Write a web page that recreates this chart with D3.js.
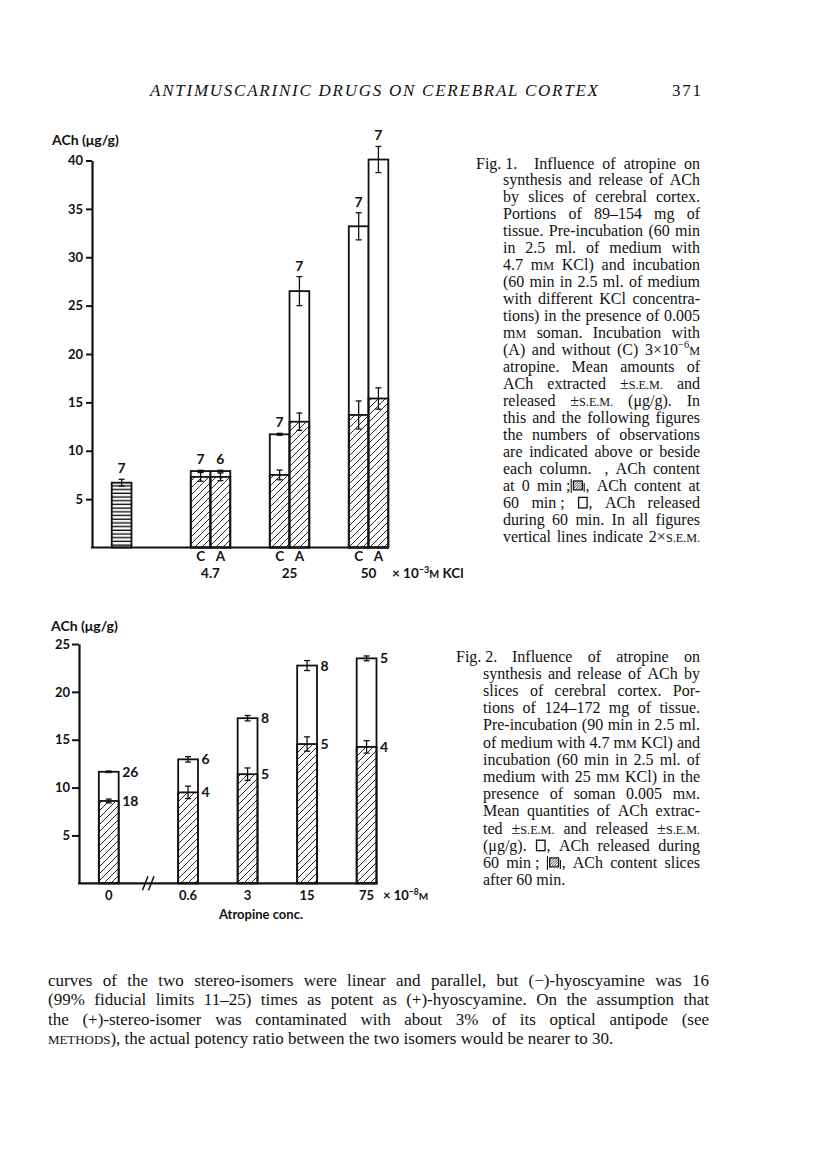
<!DOCTYPE html>
<html><head><meta charset="utf-8">
<script src="https://cdn.jsdelivr.net/npm/d3@7"></script>
<style>body{margin:0;background:#fff}svg{display:block}</style>
</head><body>
<svg id="page" width="816" height="1154"></svg>
<script>
// ---------------- DATA ----------------
const headerTitle = "ANTIMUSCARINIC DRUGS ON CEREBRAL CORTEX";
const pageNumber = "371";

// Fig. 1
const fig1Categories = ["0 min", "4.7 C", "4.7 A", "25 C", "25 A", "50 C", "50 A"];
const fig1SlotLayout = ["", "0 min", "", "", "", "4.7 C", "4.7 A", "", "", "25 C", "25 A", "", "", "50 C", "50 A"];
const fig1Content    = [6.7, 7.3, 7.3, 7.5, 13.0, 13.7, 15.4];
const fig1ContentErr = [0.35, 0.45, 0.4, 0.5, 0.9, 1.45, 1.1];
const fig1Total      = [null, 7.9, 7.9, 11.7, 26.5, 33.2, 40.1];
const fig1TotalErr   = [null, 0.08, 0.08, 0.1, 1.5, 1.4, 1.35];
const fig1N          = ["7", "7", "6", "7", "7", "7", "7"];
const fig1Groups     = ["4.7", "25", "50"];
const fig1Ticks      = [5, 10, 15, 20, 25, 30, 35, 40];

// Fig. 2
const fig2Categories = ["0", "0.6", "3", "15", "75"];
const fig2SlotLayout = ["", "0", "", "", "", "0.6", "", "", "3", "", "", "15", "", "", "75"];
const fig2Content    = [8.6, 9.5, 11.4, 14.55, 14.25];
const fig2ContentErr = [0.2, 0.65, 0.65, 0.75, 0.65];
const fig2Total      = [11.65, 12.95, 17.25, 22.75, 23.5];
const fig2TotalErr   = [0.08, 0.28, 0.28, 0.52, 0.25];
const fig2NTotal     = ["26", "6", "8", "8", "5"];
const fig2NContent   = ["18", "4", "5", "5", "4"];
const fig2Ticks      = [5, 10, 15, 20, 25];

const fig1Caption = [
  "synthesis and release of ACh",
  "by slices of cerebral cortex.",
  "Portions of 89–154 mg of",
  "tissue.  Pre-incubation (60 min",
  "in 2.5 ml. of medium with",
  "4.7 m{m} KCl) and incubation",
  "(60 min in 2.5 ml. of medium",
  "with different KCl concentra-",
  "tions) in the presence of 0.005",
  "m{m} soman.  Incubation with",
  "(A) and without (C) 3×10^−6^{m}",
  "atropine.  Mean amounts of",
  "ACh extracted ±{s.e.m.} and",
  "released ±{s.e.m.} (μg/g).  In",
  "this and the following figures",
  "the numbers of observations",
  "are indicated above or beside",
  "each column. #B, ACh content",
  "at 0 min\u00A0;#H, ACh content at",
  "60 min\u00A0; #W, ACh released",
  "during 60 min.  In all figures",
  "vertical lines indicate 2×{s.e.m.}"
];
const fig2Caption = [
  "synthesis and release of ACh by",
  "slices of cerebral cortex.  Por-",
  "tions of 124–172 mg of tissue.",
  "Pre-incubation (90 min in 2.5 ml.",
  "of medium with 4.7 m{m} KCl) and",
  "incubation (60 min in 2.5 ml. of",
  "medium with 25 m{m} KCl) in the",
  "presence of soman 0.005 m{m}.",
  "Mean quantities of ACh extrac-",
  "ted ±{s.e.m.} and released ±{s.e.m.}",
  "(μg/g).  #W, ACh released during",
  "60 min\u00A0; #H, ACh content slices",
  "after 60 min."
];
const bodyLines = [
  "curves of the two stereo-isomers were linear and parallel, but (−)-hyoscyamine was 16",
  "(99% fiducial limits 11–25) times as potent as (+)-hyoscyamine.  On the assumption that",
  "the (+)-stereo-isomer was contaminated with about 3% of its optical antipode (see",
  "{methods}), the actual potency ratio between the two isomers would be nearer to 30."
];

// ---------------- SETUP ----------------
const SERIF = "'Liberation Serif', 'Times New Roman', serif";
const SANS = "Lato, 'Open Sans', sans-serif";
const svg = d3.select("#page");
svg.append("rect").attr("width", 816).attr("height", 1154).attr("fill", "#fff");
const defs = svg.append("defs");
defs.append("pattern").attr("id", "hatch").attr("patternUnits", "userSpaceOnUse")
  .attr("width", 7).attr("height", 7)
  .append("path").attr("d", "M-1,1 L1,-1 M0,7 L7,0 M6,8 L8,6")
  .attr("stroke", "#111").attr("stroke-width", 0.9);
defs.append("pattern").attr("id", "hstripe").attr("patternUnits", "userSpaceOnUse")
  .attr("width", 6).attr("height", 3.7)
  .append("path").attr("d", "M0,1.2 H6").attr("stroke", "#111").attr("stroke-width", 1.4);
defs.append("pattern").attr("id", "hatchSmall").attr("patternUnits", "userSpaceOnUse")
  .attr("width", 2.6).attr("height", 2.6)
  .append("path").attr("d", "M-0.5,0.5 L0.5,-0.5 M0,2.6 L2.6,0 M2.1,3.1 L3.1,2.1")
  .attr("stroke", "#111").attr("stroke-width", 0.8);

// ---------------- TEXT LAYOUT HELPER ----------------
function parseWord(w) {
  const runs = [];
  const re = /\{([^}]*)\}|\^([^^]*)\^|#([HWB])|([^{^#]+)/g;
  let m;
  while ((m = re.exec(w)) !== null) {
    if (m[1] !== undefined) runs.push({ t: m[1].toUpperCase(), sc: true });
    else if (m[2] !== undefined) runs.push({ t: m[2], sup: true });
    else if (m[3] !== undefined) runs.push({ icon: m[3] });
    else runs.push({ t: m[4] });
  }
  return runs;
}
function drawWord(g, runs, y, fs, opt) {
  let x = 0;
  runs.forEach(r => {
    if (r.icon) {
      if (r.icon === "W") {
        g.append("rect").attr("x", x + 1.5).attr("y", y - 10.5).attr("width", 8.5).attr("height", 10.5)
          .attr("fill", "#fff").attr("stroke", "#111").attr("stroke-width", 1.3);
        x += 11.5;
      } else if (r.icon === "H") {
        g.append("line").attr("x1", x + 0.8).attr("x2", x + 0.8).attr("y1", y - 12).attr("y2", y + 2)
          .attr("stroke", "#111").attr("stroke-width", 1.1);
        g.append("rect").attr("x", x + 3).attr("y", y - 10).attr("width", 9).attr("height", 9)
          .attr("fill", "url(#hatchSmall)").attr("stroke", "#111").attr("stroke-width", 1.2);
        g.append("line").attr("x1", x + 13.8).attr("x2", x + 13.8).attr("y1", y - 8).attr("y2", y + 1)
          .attr("stroke", "#111").attr("stroke-width", 1.1);
        x += 15;
      } else {
        x += 6;
      }
      return;
    }
    const size = r.sc ? fs * 0.76 : r.sup ? fs * 0.66 : fs;
    const t = g.append("text").attr("x", x).attr("y", r.sup ? y - fs * 0.42 : y)
      .attr("font-family", opt.family).attr("font-size", size)
      .attr("font-weight", opt.weight || "normal").attr("font-style", opt.style || "normal")
      .attr("fill", "#111").text(r.t);
    x += t.node().getComputedTextLength();
  });
  return x;
}
function layoutLine(parent, str, opt) {
  const words = str.split(" ").filter(w => w.length);
  const gs = [], widths = [];
  words.forEach(w => {
    const g = parent.append("g");
    widths.push(drawWord(g, parseWord(w), opt.y, opt.fs, opt));
    gs.push(g);
  });
  const total = d3.sum(widths);
  const gap = (opt.justify && words.length > 1) ? (opt.x1 - opt.x0 - total) / (words.length - 1) : opt.fs * 0.25;
  let x = opt.x0;
  gs.forEach((g, i) => { g.attr("transform", `translate(${x},0)`); x += widths[i] + gap; });
}

// ---------------- HEADER ----------------
svg.append("text").attr("x", 150).attr("y", 95.5).attr("font-family", SERIF).attr("font-style", "italic")
  .attr("font-size", 17).attr("textLength", 448).attr("lengthAdjust", "spacing").attr("fill", "#111").text(headerTitle);
svg.append("text").attr("x", 672).attr("y", 96).attr("font-family", SERIF)
  .attr("font-size", 17).attr("textLength", 29).attr("lengthAdjust", "spacing").attr("fill", "#111").text(pageNumber);

// ---------------- CHART HELPERS ----------------
function styleAxis(ax) {
  ax.select(".domain").attr("stroke", "#111").attr("stroke-width", 2.2);
  ax.selectAll(".tick line").attr("stroke", "#111").attr("stroke-width", 2);
  ax.selectAll(".tick text").attr("font-family", SANS).attr("font-weight", 700)
    .attr("font-size", 13).attr("fill", "#111");
}
function errBar(g, cx, y, v, e) {
  if (e == null) return;
  const cw = 3;
  g.append("line").attr("x1", cx).attr("x2", cx).attr("y1", y(v - e)).attr("y2", y(v + e))
    .attr("stroke", "#111").attr("stroke-width", 1.3);
  [v - e, v + e].forEach(val => g.append("line").attr("x1", cx - cw).attr("x2", cx + cw)
    .attr("y1", y(val)).attr("y2", y(val)).attr("stroke", "#111").attr("stroke-width", 1.3));
}

// ---------------- FIG 1 ----------------
const g1 = svg.append("g");
const slots1 = fig1SlotLayout.map((s, i) => s || "gap" + i);
const x1 = d3.scaleBand().domain(slots1).range([92, 388.3]);
const y1 = d3.scaleLinear().domain([0, 40]).range([547.5, 160.5]);
const bw1 = x1.bandwidth();

fig1Categories.forEach((c, i) => {
  const bx = x1(c), cx = bx + bw1 / 2;
  if (fig1Total[i] != null) {
    g1.append("rect").attr("x", bx).attr("y", y1(fig1Total[i])).attr("width", bw1)
      .attr("height", y1(0) - y1(fig1Total[i])).attr("fill", "#fff").attr("stroke", "#111").attr("stroke-width", 1.8);
  }
  g1.append("rect").attr("x", bx).attr("y", y1(fig1Content[i])).attr("width", bw1)
    .attr("height", y1(0) - y1(fig1Content[i])).attr("fill", i === 0 ? "url(#hstripe)" : "url(#hatch)")
    .attr("stroke", "#111").attr("stroke-width", 1.8);
  errBar(g1, cx, y1, fig1Content[i], fig1ContentErr[i]);
  if (fig1Total[i] != null) errBar(g1, cx, y1, fig1Total[i], fig1TotalErr[i]);
  const top = fig1Total[i] != null ? fig1Total[i] + fig1TotalErr[i] : fig1Content[i] + fig1ContentErr[i];
  g1.append("text").attr("x", cx).attr("y", y1(top) - 6).attr("text-anchor", "middle")
    .attr("font-family", SANS).attr("font-weight", 700).attr("font-size", 14).attr("fill", "#111").text(fig1N[i]);
});

const ax1 = g1.append("g").attr("transform", "translate(92,0)")
  .call(d3.axisLeft(y1).tickValues(fig1Ticks).tickSize(6).tickSizeOuter(0).tickPadding(3));
styleAxis(ax1);
g1.append("line").attr("x1", 91).attr("x2", x1.range()[1]).attr("y1", y1(0)).attr("y2", y1(0))
  .attr("stroke", "#111").attr("stroke-width", 2.2);
g1.append("text").attr("x", 52).attr("y", 145).attr("font-family", SANS).attr("font-weight", 700)
  .attr("font-size", 14).attr("fill", "#111").text("ACh (μg/g)");

fig1Groups.forEach(gname => {
  const cKey = gname + " C", aKey = gname + " A";
  [[cKey, "C"], [aKey, "A"]].forEach(([k, lab]) => {
    g1.append("text").attr("x", x1(k) + bw1 / 2).attr("y", 561).attr("text-anchor", "middle")
      .attr("font-family", SANS).attr("font-weight", 700).attr("font-size", 13.5).attr("fill", "#111").text(lab);
  });
  g1.append("text").attr("x", x1(aKey)).attr("y", 577.5).attr("text-anchor", "middle")
    .attr("font-family", SANS).attr("font-weight", 700).attr("font-size", 13.5).attr("fill", "#111").text(gname);
});
const kclLab = g1.append("text").attr("x", 392).attr("y", 577.5).attr("font-family", SANS)
  .attr("font-weight", 700).attr("font-size", 13.5).attr("fill", "#111");
kclLab.append("tspan").text("× 10");
kclLab.append("tspan").attr("font-size", 9).attr("dy", -5).text("−3");
kclLab.append("tspan").attr("font-size", 10.5).attr("dy", 5).text("M");
kclLab.append("tspan").text(" KCl");

// ---------------- FIG 2 ----------------
const g2 = svg.append("g");
const slots2 = fig2SlotLayout.map((s, i) => s || "gap" + i);
const x2 = d3.scaleBand().domain(slots2).range([79, 376.5]);
const y2 = d3.scaleLinear().domain([0, 25]).range([883.3, 644]);
const bw2 = x2.bandwidth();

fig2Categories.forEach((c, i) => {
  const bx = x2(c), cx = bx + bw2 / 2;
  g2.append("rect").attr("x", bx).attr("y", y2(fig2Total[i])).attr("width", bw2)
    .attr("height", y2(0) - y2(fig2Total[i])).attr("fill", "#fff").attr("stroke", "#111").attr("stroke-width", 1.8);
  g2.append("rect").attr("x", bx).attr("y", y2(fig2Content[i])).attr("width", bw2)
    .attr("height", y2(0) - y2(fig2Content[i])).attr("fill", "url(#hatch)").attr("stroke", "#111").attr("stroke-width", 1.8);
  errBar(g2, cx, y2, fig2Content[i], fig2ContentErr[i]);
  errBar(g2, cx, y2, fig2Total[i], fig2TotalErr[i]);
  [[fig2Total[i], fig2NTotal[i]], [fig2Content[i], fig2NContent[i]]].forEach(([v, n]) => {
    g2.append("text").attr("x", bx + bw2 + 3.5).attr("y", y2(v) + 5).attr("font-family", SANS)
      .attr("font-weight", 700).attr("font-size", 14).attr("fill", "#111").text(n);
  });
  g2.append("text").attr("x", cx).attr("y", 900).attr("text-anchor", "middle").attr("font-family", SANS)
    .attr("font-weight", 700).attr("font-size", 13).attr("fill", "#111").text(c);
});
const ax2 = g2.append("g").attr("transform", "translate(79,0)")
  .call(d3.axisLeft(y2).tickValues(fig2Ticks).tickSize(7).tickSizeOuter(0).tickPadding(2));
styleAxis(ax2);
g2.append("line").attr("x1", 78).attr("x2", x2.range()[1] + 1).attr("y1", y2(0)).attr("y2", y2(0))
  .attr("stroke", "#111").attr("stroke-width", 2.2);
// axis break
const brk = x2(slots2[3]) + bw2 * 0.2;
[0, 6].forEach(o => g2.append("line").attr("x1", brk + o).attr("x2", brk + o + 5.5)
  .attr("y1", y2(0) + 7).attr("y2", y2(0) - 7).attr("stroke", "#111").attr("stroke-width", 1.5));
g2.append("text").attr("x", 51).attr("y", 631).attr("font-family", SANS).attr("font-weight", 700)
  .attr("font-size", 14).attr("fill", "#111").text("ACh (μg/g)");
const atrLab = g2.append("text").attr("x", 383).attr("y", 900).attr("font-family", SANS)
  .attr("font-weight", 700).attr("font-size", 13).attr("fill", "#111");
atrLab.append("tspan").text("× 10");
atrLab.append("tspan").attr("font-size", 8.5).attr("dy", -5).text("−8");
atrLab.append("tspan").attr("font-size", 10).attr("dy", 5).text("M");
g2.append("text").attr("x", 261).attr("y", 919).attr("text-anchor", "middle").attr("font-family", SANS)
  .attr("font-weight", 700).attr("font-size", 13).attr("fill", "#111").text("Atropine conc.");

// ---------------- CAPTIONS ----------------
const cap = svg.append("g");
function caption(figLabel, labelX, firstX, x0, x1c, base, step, lines, lastJustify) {
  layoutLine(cap, figLabel, { x0: labelX, x1: firstX, y: base, fs: 16, family: SERIF, justify: false });
  layoutLine(cap, "Influence of atropine on", { x0: firstX, x1: x1c, y: base, fs: 16, family: SERIF, justify: true });
  lines.forEach((l, i) => {
    const last = i === lines.length - 1;
    layoutLine(cap, l, { x0: x0, x1: x1c, y: base + (i + 1) * step, fs: 16, family: SERIF,
      justify: !last || lastJustify });
  });
}
caption("Fig. 1.", 476, 534, 503, 700, 168.5, 16.97, fig1Caption, true);
caption("Fig. 2.", 456, 512, 483, 700, 661.5, 17.2, fig2Caption, false);

// ---------------- BODY ----------------
bodyLines.forEach((l, i) => {
  layoutLine(svg.append("g"), l, { x0: 48, x1: 709, y: 985.5 + i * 19.5, fs: 17, family: SERIF,
    justify: i < bodyLines.length - 1 });
});
</script>
</body></html>
